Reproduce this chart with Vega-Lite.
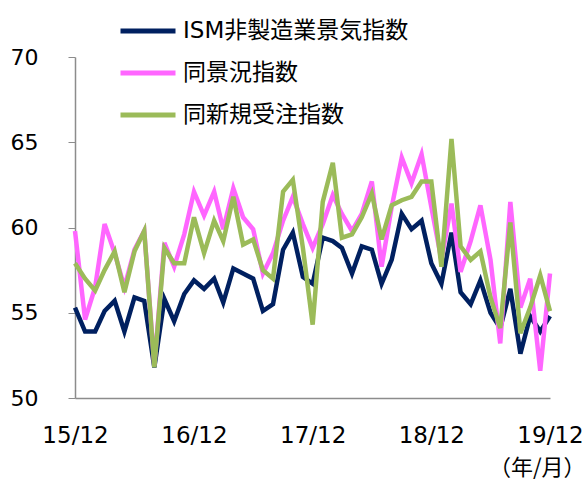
{
  "$schema": "https://vega.github.io/schema/vega-lite/v6.json",
  "width": 475,
  "height": 341,
  "autosize": {"type": "none"},
  "padding": {"left": 75, "top": 57, "right": 38, "bottom": 81},
  "background": "white",
  "config": {
    "view": {"stroke": null},
    "font": "DejaVu Sans, Noto Sans CJK JP"
  },
  "data": {
    "values": [
      {"m": "2015-12", "ism": 55.3, "kyo": 59.8, "new": 57.9},
      {"m": "2016-01", "ism": 53.9, "kyo": 54.6, "new": 57.0},
      {"m": "2016-02", "ism": 53.9, "kyo": 56.5, "new": 56.3},
      {"m": "2016-03", "ism": 55.1, "kyo": 60.2, "new": 57.5},
      {"m": "2016-04", "ism": 55.7, "kyo": 58.5, "new": 58.6},
      {"m": "2016-05", "ism": 53.9, "kyo": 56.5, "new": 56.2},
      {"m": "2016-06", "ism": 55.9, "kyo": 58.7, "new": 58.6},
      {"m": "2016-07", "ism": 55.7, "kyo": 59.8, "new": 59.8},
      {"m": "2016-08", "ism": 51.8, "kyo": 51.9, "new": 51.8},
      {"m": "2016-09", "ism": 55.8, "kyo": 59.1, "new": 58.8},
      {"m": "2016-10", "ism": 54.5, "kyo": 57.7, "new": 57.9},
      {"m": "2016-11", "ism": 56.1, "kyo": 59.6, "new": 57.9},
      {"m": "2016-12", "ism": 56.9, "kyo": 62.1, "new": 60.6},
      {"m": "2017-01", "ism": 56.4, "kyo": 60.7, "new": 58.5},
      {"m": "2017-02", "ism": 57.0, "kyo": 62.1, "new": 60.4},
      {"m": "2017-03", "ism": 55.6, "kyo": 59.9, "new": 59.2},
      {"m": "2017-04", "ism": 57.6, "kyo": 62.3, "new": 61.8},
      {"m": "2017-05", "ism": 57.3, "kyo": 60.6, "new": 59.0},
      {"m": "2017-06", "ism": 57.0, "kyo": 59.9, "new": 59.3},
      {"m": "2017-07", "ism": 55.1, "kyo": 57.3, "new": 57.5},
      {"m": "2017-08", "ism": 55.5, "kyo": 58.5, "new": 57.0},
      {"m": "2017-09", "ism": 58.7, "kyo": 60.4, "new": 62.1},
      {"m": "2017-10", "ism": 59.7, "kyo": 61.8, "new": 62.8},
      {"m": "2017-11", "ism": 57.1, "kyo": 60.2, "new": 58.8},
      {"m": "2017-12", "ism": 56.7, "kyo": 58.8, "new": 54.3},
      {"m": "2018-01", "ism": 59.4, "kyo": 60.2, "new": 61.5},
      {"m": "2018-02", "ism": 59.2, "kyo": 61.9, "new": 63.8},
      {"m": "2018-03", "ism": 58.8, "kyo": 60.8, "new": 59.4},
      {"m": "2018-04", "ism": 57.3, "kyo": 59.8, "new": 59.6},
      {"m": "2018-05", "ism": 58.9, "kyo": 60.8, "new": 60.6},
      {"m": "2018-06", "ism": 58.7, "kyo": 62.7, "new": 62.0},
      {"m": "2018-07", "ism": 56.7, "kyo": 57.7, "new": 59.3},
      {"m": "2018-08", "ism": 58.1, "kyo": 61.2, "new": 61.3},
      {"m": "2018-09", "ism": 60.8, "kyo": 64.1, "new": 61.6},
      {"m": "2018-10", "ism": 59.9, "kyo": 62.6, "new": 61.8},
      {"m": "2018-11", "ism": 60.4, "kyo": 64.3, "new": 62.7},
      {"m": "2018-12", "ism": 57.9, "kyo": 61.2, "new": 62.7},
      {"m": "2019-01", "ism": 56.7, "kyo": 58.1, "new": 57.7},
      {"m": "2019-02", "ism": 59.7, "kyo": 61.4, "new": 65.2},
      {"m": "2019-03", "ism": 56.2, "kyo": 57.4, "new": 58.9},
      {"m": "2019-04", "ism": 55.5, "kyo": 59.2, "new": 58.1},
      {"m": "2019-05", "ism": 56.9, "kyo": 61.3, "new": 58.6},
      {"m": "2019-06", "ism": 55.0, "kyo": 58.1, "new": 55.9},
      {"m": "2019-07", "ism": 54.1, "kyo": 53.2, "new": 54.1},
      {"m": "2019-08", "ism": 56.4, "kyo": 61.5, "new": 60.3},
      {"m": "2019-09", "ism": 52.6, "kyo": 55.3, "new": 53.8},
      {"m": "2019-10", "ism": 54.8, "kyo": 57.0, "new": 55.3},
      {"m": "2019-11", "ism": 53.9, "kyo": 51.6, "new": 57.2},
      {"m": "2019-12", "ism": 54.8, "kyo": 57.3, "new": 55.1}
    ],
    "format": {"parse": {"m": "date:'%Y-%m'"}}
  },
  "transform": [
    {"fold": ["ism", "kyo", "new"], "as": ["series", "value"]}
  ],
  "mark": {"type": "line", "strokeWidth": 4.5, "strokeJoin": "miter", "clip": false},
  "encoding": {
    "x": {
      "field": "m",
      "type": "temporal",
      "scale": {"domain": [{"year": 2015, "month": 12, "date": 1}, {"year": 2019, "month": 12, "date": 1}]},
      "axis": {
        "values": [
          {"year": 2015, "month": 12, "date": 1},
          {"year": 2016, "month": 12, "date": 1},
          {"year": 2017, "month": 12, "date": 1},
          {"year": 2018, "month": 12, "date": 1},
          {"year": 2019, "month": 12, "date": 1}
        ],
        "format": "%y/%m",
        "grid": false,
        "ticks": false,
        "domainColor": "#8c8c8c",
        "domainWidth": 1.5,
        "labelFontSize": 23,
        "labelColor": "#000000",
        "labelPadding": 26,
        "labelFlush": false,
        "labelOverlap": false,
        "title": "（年/月）",
        "titleFont": "Noto Sans CJK JP",
        "titleFontSize": 22,
        "titleFontWeight": "normal",
        "titleColor": "#000000",
        "titleAnchor": "end",
        "titleAlign": "right",
        "titleX": 510,
        "titleY": 69,
        "titleBaseline": "middle"
      }
    },
    "y": {
      "field": "value",
      "type": "quantitative",
      "scale": {"domain": [50, 70], "nice": false, "zero": false},
      "axis": {
        "values": [50, 55, 60, 65, 70],
        "grid": false,
        "domainColor": "#8c8c8c",
        "domainWidth": 1.5,
        "tickColor": "#8c8c8c",
        "tickSize": 7,
        "labelFontSize": 22,
        "labelColor": "#000000",
        "labelPadding": 30,
        "title": null
      }
    },
    "color": {
      "field": "series",
      "type": "nominal",
      "scale": {"domain": ["ism", "kyo", "new"], "range": ["#002060", "#FF66FF", "#9BBB59"]},
      "legend": {
        "orient": "none",
        "legendX": 43,
        "legendY": -56,
        "direction": "vertical",
        "title": null,
        "symbolType": "stroke",
        "symbolSize": 3025,
        "symbolStrokeWidth": 5,
        "labelFont": "DejaVu Sans, Noto Sans CJK JP",
        "labelFontSize": 23,
        "labelLimit": 400,
        "labelColor": "#000000",
        "labelOffset": 5,
        "rowPadding": -2,
        "labelExpr": "datum.value == 'ism' ? 'ISM非製造業景気指数' : datum.value == 'kyo' ? '同景況指数' : '同新規受注指数'"
      }
    }
  }
}
